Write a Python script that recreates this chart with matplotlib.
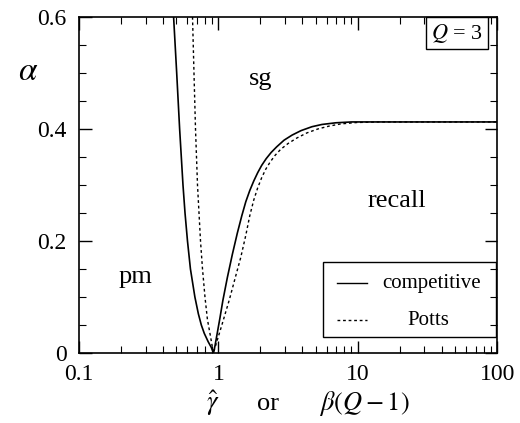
import matplotlib
matplotlib.use("Agg")
import matplotlib.pyplot as plt
from matplotlib.patches import Rectangle

plt.rcParams['font.family'] = 'serif'
plt.rcParams['font.serif'] = ['Liberation Serif', 'DejaVu Serif']
plt.rcParams['mathtext.fontset'] = 'stix'

# phase boundaries: (gamma, alpha)
comp_left_g = [0.477, 0.502, 0.527, 0.557, 0.576, 0.600, 0.630, 0.678, 0.718, 0.754,
               0.792, 0.845, 0.889, 0.921]
comp_left_a = [0.6, 0.5, 0.4, 0.3, 0.25, 0.2, 0.15, 0.1, 0.07, 0.05,
               0.035, 0.02, 0.01, 0.0]
comp_right_g = [0.921, 0.944, 0.9756, 1.025, 1.077, 1.160, 1.259, 1.367, 1.472, 1.572,
                1.679, 1.793, 1.915, 2.045, 2.203, 2.391, 2.618, 2.961, 3.378, 3.916,
                4.693, 5.534, 6.966, 9.06, 15, 100]
comp_right_a = [0.0, 0.012, 0.032, 0.062, 0.094, 0.135, 0.176, 0.214, 0.245, 0.27,
                0.29, 0.307, 0.322, 0.335, 0.347, 0.358, 0.368, 0.38, 0.389, 0.397,
                0.404, 0.408, 0.411, 0.4125, 0.4125, 0.4125]

potts_left_g = [0.652, 0.668, 0.685, 0.708, 0.744, 0.769, 0.801, 0.834, 0.877, 0.906, 0.921]
potts_left_a = [0.6, 0.5, 0.4, 0.3, 0.2, 0.15, 0.1, 0.06, 0.03, 0.01, 0.0]
potts_right_g = [0.921, 0.968, 1.059, 1.198, 1.323, 1.448, 1.572, 1.679, 1.793, 1.915,
                 2.045, 2.185, 2.352, 2.554, 2.796, 3.162, 3.667, 4.322, 5.179, 6.208,
                 7.557, 9.837, 14.13, 100]
potts_right_a = [0.0, 0.018, 0.05, 0.095, 0.135, 0.171, 0.21, 0.245, 0.273, 0.295,
                 0.313, 0.328, 0.341, 0.353, 0.3635, 0.374, 0.384, 0.393, 0.4, 0.405,
                 0.409, 0.4115, 0.4125, 0.4125]

xticks = [0.1, 1, 10, 100]
xticklabels = ['0.1', '1', '10', '100']
yticks = [0, 0.2, 0.4, 0.6]
yticklabels = ['0', '0.2', '0.4', '0.6']

fig = plt.figure(figsize=(5.2, 4.23), dpi=100)
ax = fig.add_axes([0.152, 0.1655, 0.804, 0.7945])

ax.plot(comp_left_g[:-1] + comp_right_g, comp_left_a[:-1] + comp_right_a,
        color='black', lw=1.2)
ax.plot(potts_left_g[:-1] + potts_right_g, potts_left_a[:-1] + potts_right_a,
        color='black', lw=1.0, linestyle=(0, (2, 2)))

ax.set_xscale('log')
ax.set_xlim(0.1, 100)
ax.set_ylim(0, 0.6)
ax.set_xticks(xticks)
ax.set_xticklabels(xticklabels)
ax.set_yticks(yticks)
ax.set_yticklabels(yticklabels)
ax.set_yticks([0.05, 0.1, 0.15, 0.25, 0.3, 0.35, 0.45, 0.5, 0.55], minor=True)
ax.tick_params(which='both', direction='in', top=True, right=True, labelsize=17)
ax.tick_params(axis='x', pad=8)
ax.tick_params(axis='y', pad=9)
ax.tick_params(which='major', length=9, width=1)
ax.tick_params(which='minor', length=5, width=0.8)
for s in ax.spines.values():
    s.set_linewidth(1.2)

# region labels
ax.text(0.435, 0.798, 'sg', transform=ax.transAxes, ha='center', va='baseline', fontsize=19)
ax.text(0.134, 0.208, 'pm', transform=ax.transAxes, ha='center', va='baseline', fontsize=19)
ax.text(0.761, 0.4345, 'recall', transform=ax.transAxes, ha='center', va='baseline', fontsize=19)

ax.text(0.904, 0.952, r'$Q$ = 3', transform=ax.transAxes, ha='center', va='center',
        fontsize=16, bbox=dict(boxstyle='square,pad=0.22', fc='white', ec='black', lw=1))

# legend box
ax.add_patch(Rectangle((0.584, 0.048), 0.413, 0.223, transform=ax.transAxes,
                       fill=False, ec='black', lw=1, zorder=5))
ax.plot([0.617, 0.689], [0.208, 0.208], transform=ax.transAxes, color='black', lw=1)
ax.plot([0.617, 0.689], [0.098, 0.098], transform=ax.transAxes, color='black', lw=1,
        linestyle=(0, (2, 2)))
ax.text(0.725, 0.208, 'competitive', transform=ax.transAxes, ha='left', va='center', fontsize=15)
ax.text(0.835, 0.098, 'Potts', transform=ax.transAxes, ha='center', va='center', fontsize=15)

fig.text(0.054, 0.83, r'$\alpha$', ha='center', va='center', fontsize=24)

# x label, spread out like the original
fig.text(0.41, 0.031, r'$\hat{\gamma}$', ha='center', va='baseline', fontsize=19)
fig.text(0.515, 0.031, 'or', ha='center', va='baseline', fontsize=19)
fig.text(0.70, 0.031, r'$\beta(Q - 1)$', ha='center', va='baseline', fontsize=19)

fig.savefig('out.png', dpi=100)
